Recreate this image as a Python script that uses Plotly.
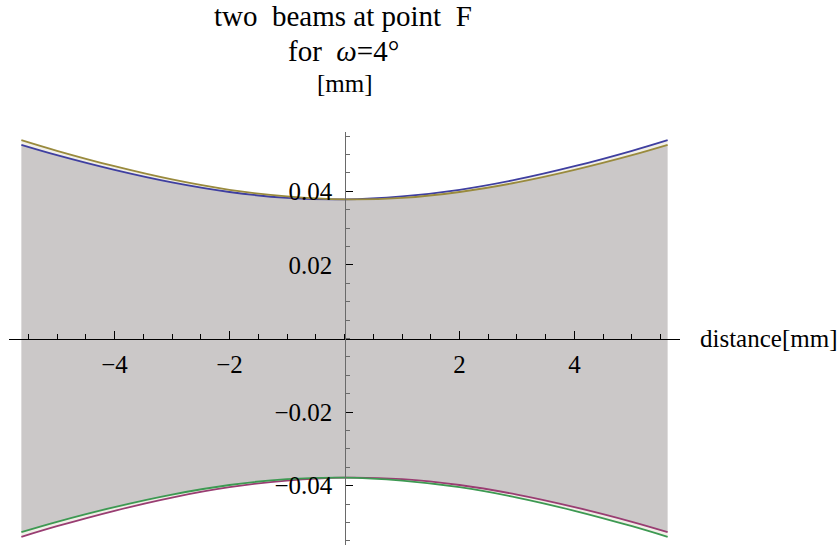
import plotly.graph_objects as go

# distance along the beam [mm]
distance_mm = [-5.62, -5.0, -4.0, -3.0, -2.0, -1.0, 0.0, 1.0, 2.0, 3.0, 4.0, 5.0, 5.62]

# beam radii [mm]: upper edges of both beams
beam1_upper = [0.0526, 0.0498, 0.0458, 0.0424, 0.0398, 0.0382, 0.0378,
               0.0386, 0.0404, 0.0432, 0.0468, 0.0510, 0.0539]
beam2_upper = [0.0539, 0.0510, 0.0468, 0.0432, 0.0404, 0.0386, 0.0378,
               0.0382, 0.0398, 0.0424, 0.0458, 0.0498, 0.0526]
# lower edges
beam2_lower = [-0.0539, -0.0510, -0.0468, -0.0432, -0.0404, -0.0386, -0.0378,
               -0.0382, -0.0398, -0.0424, -0.0458, -0.0498, -0.0526]
beam1_lower = [-0.0526, -0.0498, -0.0458, -0.0424, -0.0398, -0.0382, -0.0378,
               -0.0386, -0.0404, -0.0432, -0.0468, -0.0510, -0.0539]

x_ticks = [-4, -2, 2, 4]
x_ticktext = ["\u22124", "\u22122", "2", "4"]
y_ticks = [-0.04, -0.02, 0.02, 0.04]
y_ticktext = ["\u22120.04", "\u22120.02", "0.02", "0.04"]

W, H = 840, 548
ML, MR, MT, MB = 9, 160, 132, 3
PW, PH = W - ML - MR, H - MT - MB

def px_x(p):
    return (p - ML) / PW

def px_y(p):
    return (H - MB - p) / PH

BLUE = "#3f3fa0"
PURPLE = "#993d72"
GOLD = "#998a3d"
GREEN = "#3d9952"
FILL = "rgb(203,200,200)"
GAP = "rgb(241,239,232)"
FONT = "Liberation Serif, Times New Roman, serif"

inner_top = [min(a, b) for a, b in zip(beam1_upper, beam2_upper)]
inner_bot = [max(a, b) for a, b in zip(beam1_lower, beam2_lower)]

fig = go.Figure()

def edge(y, fill=None, fillcolor=None):
    fig.add_trace(go.Scatter(
        x=distance_mm, y=y, mode="lines", line=dict(width=0, shape="spline"),
        fill=fill, fillcolor=fillcolor, hoverinfo="skip", showlegend=False))

# shaded region between the beams
edge(inner_bot)
edge(inner_top, "tonexty", FILL)
# narrow bands between the two beams' edges
edge(beam2_upper)
edge(beam1_upper, "tonexty", GAP)
edge(beam2_lower)
edge(beam1_lower, "tonexty", GAP)

for y, c in [(beam1_upper, BLUE), (beam2_lower, PURPLE),
             (beam2_upper, GOLD), (beam1_lower, GREEN)]:
    fig.add_trace(go.Scatter(
        x=distance_mm, y=y, mode="lines",
        line=dict(color=c, width=1.8, shape="spline"),
        showlegend=False))

minor_x = [i * 0.5 for i in range(-11, 12)]
minor_y = [round(i * 0.005, 3) for i in range(-11, 12)]

tick_font = dict(family=FONT, size=25, color="black")

fig.update_layout(
    width=W, height=H,
    margin=dict(l=ML, r=MR, t=MT, b=MB),
    paper_bgcolor="white", plot_bgcolor="white",
    font=dict(family=FONT, size=25, color="black"),
    xaxis=dict(
        range=[-5.835, 5.835], anchor="free", position=0.5,
        showgrid=False, zeroline=False,
        showline=True, linecolor="black", linewidth=1,
        ticks="inside", ticklen=8, tickwidth=1, tickcolor="black",
        tickmode="array", tickvals=x_ticks, ticktext=x_ticktext,
        tickfont=tick_font,
        ticklabelstandoff=3,
        minor=dict(tickmode="array", tickvals=minor_x, ticks="inside",
                   ticklen=5, tickwidth=1, tickcolor="black", showgrid=False),
    ),
    yaxis=dict(
        range=[-0.0561, 0.0561], anchor="free", position=0.5,
        showgrid=False, zeroline=False,
        showline=True, linecolor="#6a6a6a", linewidth=1.3,
        ticks="inside", ticklen=7, tickwidth=1, tickcolor="black",
        tickmode="array", tickvals=y_ticks, ticktext=y_ticktext,
        tickfont=tick_font,
        ticklabelstandoff=7,
        minor=dict(tickmode="array", tickvals=minor_y, ticks="inside",
                   ticklen=4.5, tickwidth=1, tickcolor="#6a6a6a", showgrid=False),
    ),
    annotations=[
        dict(text="two  beams at point  F", x=px_x(343), y=px_y(16),
             xref="paper", yref="paper", xanchor="center", yanchor="middle",
             showarrow=False, font=dict(family=FONT, size=29, color="black")),
        dict(text="for  <i>\u03c9</i>=4\u00b0", x=px_x(343), y=px_y(51),
             xref="paper", yref="paper", xanchor="center", yanchor="middle",
             showarrow=False, font=dict(family=FONT, size=29, color="black")),
        dict(text="[mm]", x=px_x(345), y=px_y(84),
             xref="paper", yref="paper", xanchor="center", yanchor="middle",
             showarrow=False, font=dict(family=FONT, size=25, color="black")),
        dict(text="distance[mm]", x=px_x(698), y=px_y(338),
             xref="paper", yref="paper", xanchor="left", yanchor="middle",
             showarrow=False, font=dict(family=FONT, size=25, color="black")),
    ],
)

fig.write_html("out.html")
